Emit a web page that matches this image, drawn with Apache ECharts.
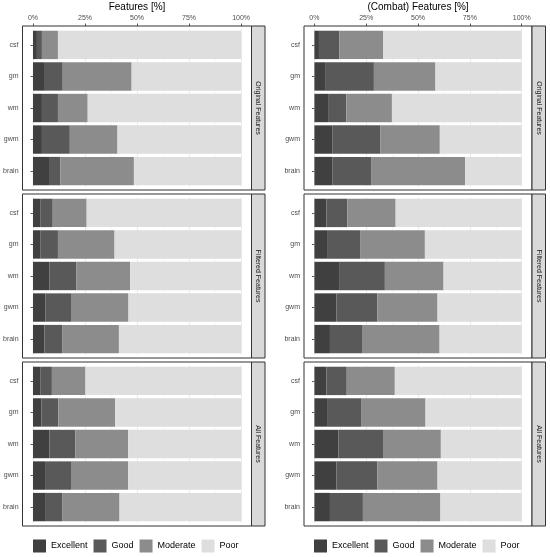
<!DOCTYPE html>
<html>
<head>
<meta charset="utf-8">
<script src="https://cdn.jsdelivr.net/npm/echarts@6/dist/echarts.min.js"></script>
<style>
  html, body { margin: 0; padding: 0; background: #fff; }
  #chart { width: 550px; height: 557px; }
</style>
</head>
<body>
<div id="chart"></div>
<script>
// categories and levels
var regions = ['csf', 'gm', 'wm', 'gwm', 'brain']
var levels = ['Excellent', 'Good', 'Moderate', 'Poor']
var levelColors = ['#404040', '#595959', '#8c8c8c', '#dedede']
var rowNames = ['Original Features', 'Filtered Features', 'All Features']
var colTitles = ['Features [%]', '(Combat) Features [%]']
var xTicks = [0, 25, 50, 75, 100]

// percentages per level (rows: Excellent, Good, Moderate, Poor; cols: regions)
var rawOriginal = [
  [1.9, 5.3, 4.3, 4.3, 7.7],
  [2.4, 9.0, 7.7, 13.4, 5.5],
  [7.7, 33.1, 14.3, 22.9, 35.3],
  [88.0, 52.6, 73.7, 59.4, 51.5]
]
var rawFiltered = [
  [3.7, 3.7, 8.0, 5.9, 5.5],
  [5.8, 8.3, 12.9, 12.7, 8.5],
  [16.3, 27.2, 25.8, 27.3, 27.3],
  [74.2, 60.8, 53.3, 54.1, 58.7]
]
var rawAll = [
  [3.7, 4.0, 7.9, 5.8, 5.8],
  [5.4, 8.2, 12.5, 12.8, 8.2],
  [16.1, 27.3, 25.3, 27.1, 27.6],
  [74.8, 60.5, 54.3, 54.3, 58.4]
]
var combatOriginal = [
  [2.2, 5.5, 6.6, 8.8, 8.8],
  [9.8, 23.2, 8.8, 23.1, 18.8],
  [21.1, 29.7, 22.0, 28.6, 45.1],
  [66.9, 41.6, 62.6, 39.5, 27.3]
]
var combatFiltered = [
  [5.8, 6.1, 11.9, 10.6, 7.5],
  [10.1, 16.2, 22.1, 19.7, 15.8],
  [23.3, 31.0, 28.3, 29.1, 37.1],
  [60.8, 46.7, 37.7, 40.6, 39.6]
]
var combatAll = [
  [5.8, 6.1, 11.6, 10.6, 7.5],
  [9.8, 16.4, 21.5, 19.7, 15.9],
  [23.2, 31.1, 27.9, 29.1, 37.4],
  [61.2, 46.4, 39.0, 40.6, 39.2]
]

var facets = [
  [rawOriginal, rawFiltered, rawAll],
  [combatOriginal, combatFiltered, combatAll]
]

// layout
var font = 'Liberation Sans, Arial, sans-serif'
var rowTops = [26, 194, 362]
var panelH = 164
var inset = panelH / 5.2 * 0.1
var cols = [
  { panelL: 22.5, panelR: 251.5, stripR: 265, x0: 32.9, x100: 241.1, legendL: 33 },
  { panelL: 304, panelR: 532, stripR: 545.5, x0: 314.4, x100: 521.7, legendL: 314 }
]

var grids = [], xAxes = [], yAxes = [], series = [], graphics = []
var idx = 0
cols.forEach(function (col, c) {
  rowTops.forEach(function (top, r) {
    grids.push({
      left: col.x0,
      width: col.x100 - col.x0,
      top: top + inset,
      height: panelH - 2 * inset
    })
    xAxes.push({
      type: 'value',
      gridIndex: idx,
      position: 'top',
      offset: inset,
      min: 0,
      max: 100,
      interval: 25,
      axisLine: { show: false },
      axisTick: { show: r === 0, length: 2.5, lineStyle: { color: '#333', width: 0.8 } },
      axisLabel: {
        show: r === 0,
        formatter: '{value}%',
        fontSize: 7,
        color: '#4d4d4d',
        fontFamily: font,
        margin: 4
      },
      splitLine: { show: true, lineStyle: { color: '#ebebeb', width: 1 } },
      minorTick: { show: false, splitNumber: 2 },
      minorSplitLine: { show: true, lineStyle: { color: '#f4f4f4', width: 0.6 } }
    })
    yAxes.push({
      type: 'category',
      gridIndex: idx,
      data: regions,
      inverse: true,
      offset: col.x0 - col.panelL,
      axisLine: { show: false },
      axisTick: { show: true, alignWithLabel: true, length: 2.5, lineStyle: { color: '#333', width: 0.8 } },
      axisLabel: { fontSize: 7, color: '#4d4d4d', fontFamily: font, margin: 4 },
      splitLine: { show: false }
    })
    var values = facets[c][r]
    levels.forEach(function (lv, k) {
      series.push({
        name: lv,
        type: 'bar',
        stack: 'f' + idx,
        xAxisIndex: idx,
        yAxisIndex: idx,
        barCategoryGap: '10%',
        itemStyle: { color: levelColors[k] },
        emphasis: { disabled: true },
        data: values[k]
      })
    })
    // panel border
    graphics.push({
      type: 'rect',
      z: 100,
      shape: { x: col.panelL, y: top, width: col.panelR - col.panelL, height: panelH },
      style: { fill: 'none', stroke: '#333', lineWidth: 1 }
    })
    // strip
    graphics.push({
      type: 'rect',
      z: 100,
      shape: { x: col.panelR, y: top, width: col.stripR - col.panelR, height: panelH },
      style: { fill: '#d9d9d9', stroke: '#333', lineWidth: 1 }
    })
    graphics.push({
      type: 'text',
      z: 101,
      x: (col.panelR + col.stripR) / 2,
      y: top + panelH / 2,
      rotation: -Math.PI / 2,
      style: {
        text: rowNames[r],
        fontSize: 7,
        fontFamily: font,
        fill: '#1a1a1a',
        align: 'center',
        verticalAlign: 'middle'
      }
    })
    idx++
  })
})

var titles = cols.map(function (col, c) {
  return {
    text: colTitles[c],
    left: (col.x0 + col.x100) / 2,
    top: 2,
    padding: 0,
    textAlign: 'center',
    textStyle: { fontSize: 10, fontWeight: 'normal', color: '#000', fontFamily: font }
  }
})

var legends = cols.map(function (col) {
  return {
    data: levels,
    left: col.legendL,
    top: 539.5,
    padding: 0,
    orient: 'horizontal',
    icon: 'rect',
    itemWidth: 13,
    itemHeight: 13,
    itemGap: 6,
    selectedMode: false,
    textStyle: { fontSize: 9, color: '#000', fontFamily: font, padding: [0, 0, 0, 0] }
  }
})

var myChart = echarts.init(document.getElementById('chart'))
myChart.setOption({
  animation: false,
  backgroundColor: '#fff',
  title: titles,
  legend: legends,
  grid: grids,
  xAxis: xAxes,
  yAxis: yAxes,
  series: series,
  graphic: graphics
})
</script>
</body>
</html>
